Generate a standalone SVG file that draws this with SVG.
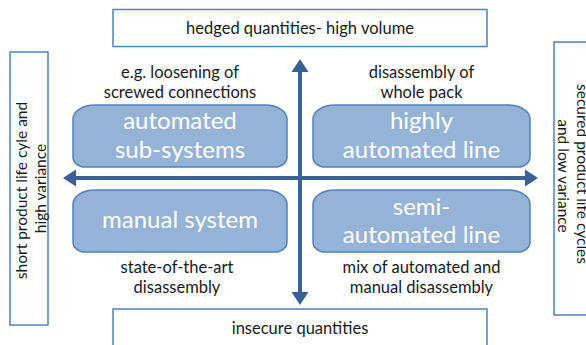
<svg xmlns="http://www.w3.org/2000/svg" width="586" height="345" viewBox="0 0 586 345">
  <style>
    .frame { fill: #ffffff; stroke: #4f81bd; stroke-width: 1.5; }
    .tab { fill: #95b3d7; stroke: #4f81bd; stroke-width: 1.5; }
    .lbl { font-family: Lato, "Open Sans", "Liberation Sans", sans-serif; font-size: 16.5px; fill: #1a1a1a; text-anchor: middle; }
    .side { font-size: 15.5px; }
    .big { font-family: Lato, "Open Sans", "Liberation Sans", sans-serif; font-size: 24px; fill: #ffffff; text-anchor: middle; }
    .axis { stroke: #3a6195; stroke-width: 4; fill: none; }
    .head { fill: #3a6195; }
  </style>

  <!-- outer axis labels -->
  <g id="top-label">
    <rect class="frame" x="113" y="9.5" width="374" height="37"/>
    <text class="lbl" x="300" y="33.5">hedged quantities- high volume</text>
  </g>
  <g id="bottom-label">
    <rect class="frame" x="113" y="309" width="374" height="50"/>
    <text class="lbl" x="300" y="333.5">insecure quantities</text>
  </g>
  <g id="left-label">
    <rect class="frame" x="10" y="52" width="38" height="273"/>
    <text class="lbl side" transform="translate(27 188.5) rotate(-90)">
      <tspan x="0" y="0">short product life cyle and</tspan>
      <tspan x="0" y="18.5">high variance</tspan>
    </text>
  </g>
  <g id="right-label">
    <rect class="frame" x="554" y="42" width="40" height="273"/>
    <text class="lbl side" transform="translate(576.5 176) rotate(90)">
      <tspan x="0" y="0">secured product life cycles</tspan>
      <tspan x="0" y="19">and low variance</tspan>
    </text>
  </g>

  <!-- connectors: the two crossing double-ended axes -->
  <g id="axes">
    <line class="axis" x1="300" y1="70" x2="300" y2="294"/>
    <polygon class="head" points="300,59 291.5,72 308.5,72"/>
    <polygon class="head" points="300,305 291.5,292 308.5,292"/>
    <line class="axis" x1="74" y1="178" x2="527" y2="178"/>
    <polygon class="head" points="63,178 76,169.5 76,186.5"/>
    <polygon class="head" points="538,178 525,169.5 525,186.5"/>
  </g>

  <!-- quadrants -->
  <g id="automated-sub-systems">
    <path class="tab" d="M95,105 H265 A22,14 0 0 1 287,119 V157 A12,10 0 0 1 275,167 H85 A12,10 0 0 1 73,157 V119 A22,14 0 0 1 95,105 Z"/>
    <text class="big" x="180" y="129">automated</text>
    <text class="big" x="180" y="158">sub-systems</text>
  </g>
  <g id="highly-automated-line">
    <path class="tab" d="M335,105 H508 A22,14 0 0 1 530,119 V157 A12,10 0 0 1 518,167 H325 A12,10 0 0 1 313,157 V119 A22,14 0 0 1 335,105 Z"/>
    <text class="big" x="421.5" y="129">highly</text>
    <text class="big" x="421.5" y="158">automated line</text>
  </g>
  <g id="manual-system">
    <path class="tab" d="M95,190 H265 A22,14 0 0 1 287,204 V242 A12,10 0 0 1 275,252 H85 A12,10 0 0 1 73,242 V204 A22,14 0 0 1 95,190 Z"/>
    <text class="big" x="180" y="228">manual system</text>
  </g>
  <g id="semi-automated-line">
    <path class="tab" d="M335,190 H508 A22,14 0 0 1 530,204 V242 A12,10 0 0 1 518,252 H325 A12,10 0 0 1 313,242 V204 A22,14 0 0 1 335,190 Z"/>
    <text class="big" x="421.5" y="214.5">semi-</text>
    <text class="big" x="421.5" y="243">automated line</text>
  </g>

  <!-- quadrant notes -->
  <g id="note-top-left">
    <text class="lbl" x="180" y="77.5">e.g. loosening of</text>
    <text class="lbl" x="180" y="97.5">screwed connections</text>
  </g>
  <g id="note-top-right">
    <text class="lbl" x="421.5" y="77.5">disassembly of</text>
    <text class="lbl" x="421.5" y="97.5">whole pack</text>
  </g>
  <g id="note-bottom-left">
    <text class="lbl" x="177" y="273">state-of-the-art</text>
    <text class="lbl" x="177" y="293">disassembly</text>
  </g>
  <g id="note-bottom-right">
    <text class="lbl" x="421.5" y="273">mix of automated and</text>
    <text class="lbl" x="421.5" y="293">manual disassembly</text>
  </g>
</svg>
